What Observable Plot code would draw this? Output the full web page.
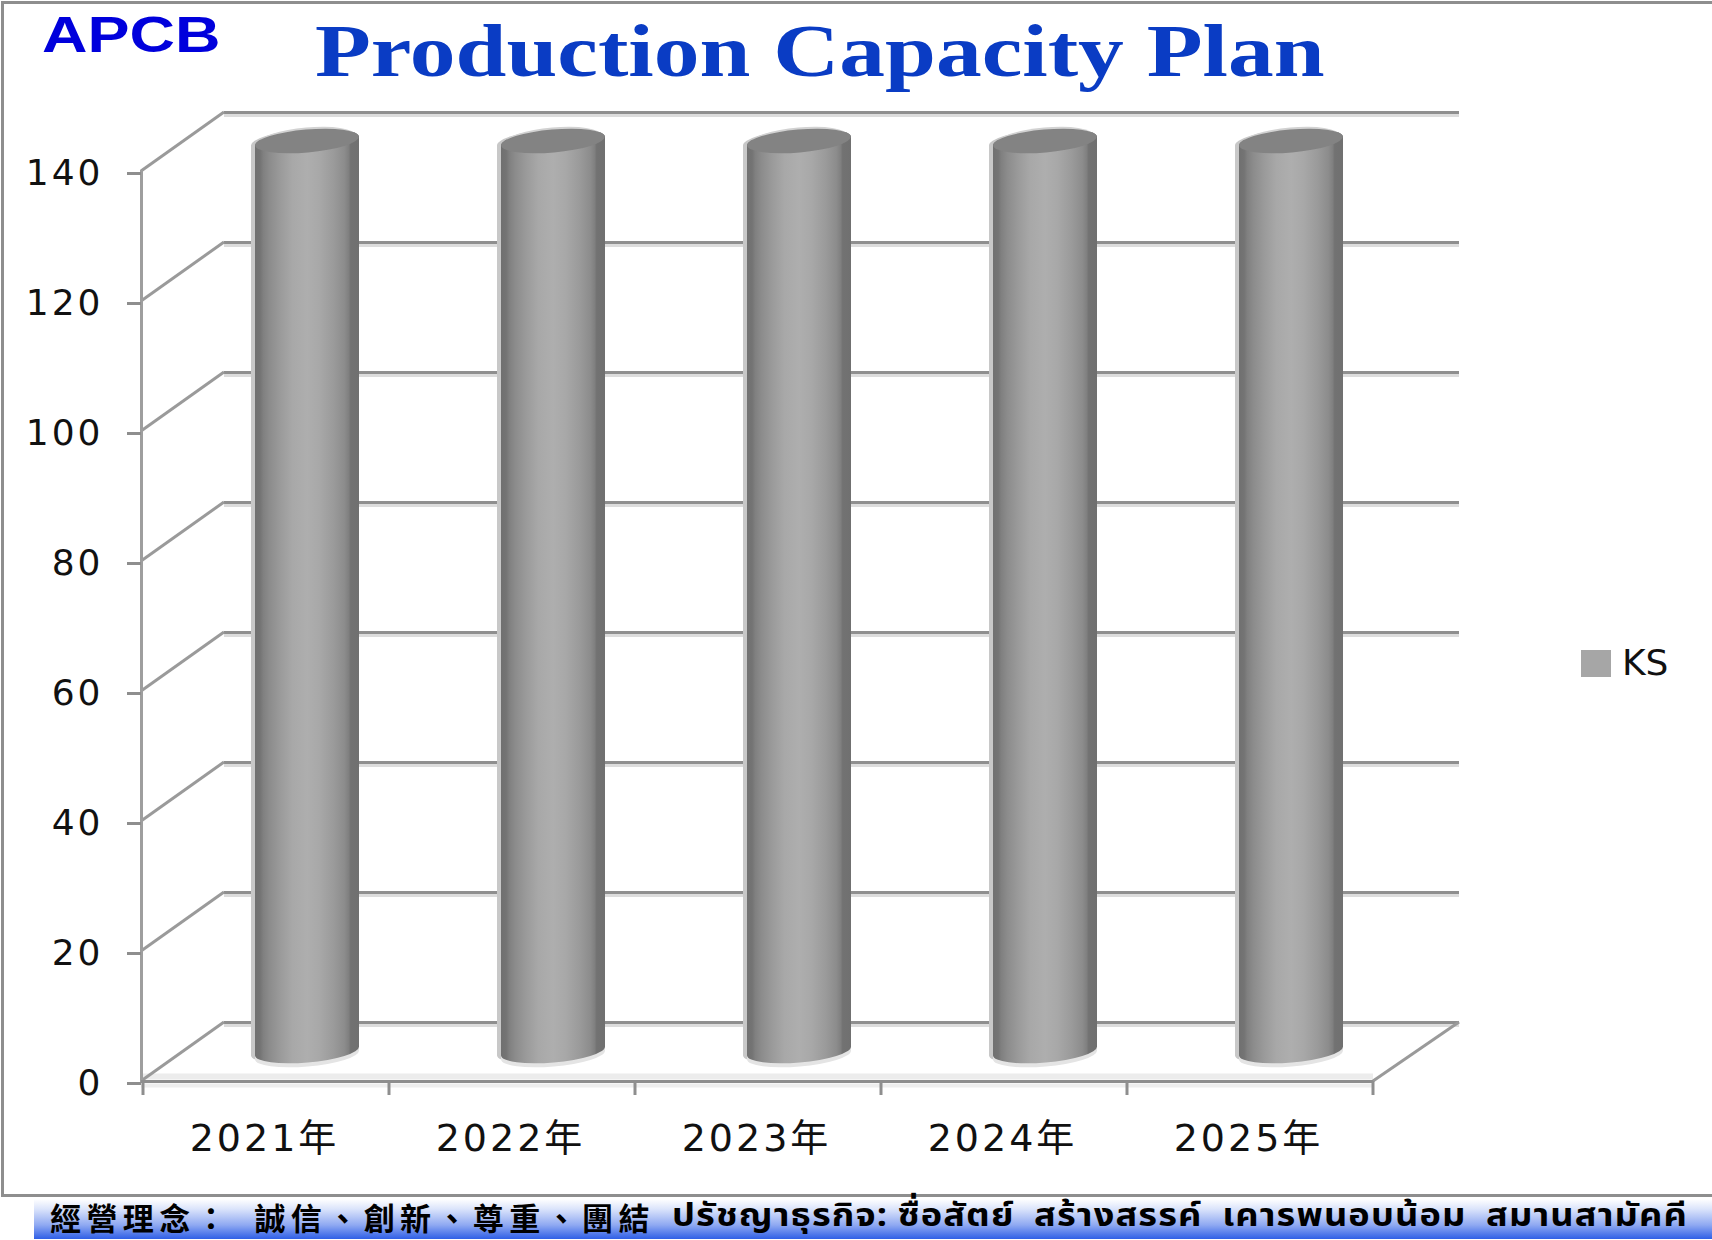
<!DOCTYPE html>
<html><head><meta charset="utf-8">
<script src="https://cdn.jsdelivr.net/npm/d3@7"></script>
<script src="https://cdn.jsdelivr.net/npm/@observablehq/plot@0.6"></script>
<style>
html,body{margin:0;padding:0;background:#fff;}
#page{position:relative;width:1712px;height:1240px;overflow:hidden;}
#frame{position:absolute;left:1px;top:1px;width:1720px;height:1190px;border:3px solid #8e8e8e;pointer-events:none;}
#head{position:relative;height:100px;}
#logo{position:absolute;left:42px;top:7px;font:bold 50px "Liberation Sans",sans-serif;color:#0000dc;transform:scaleX(1.26);transform-origin:0 0;line-height:56px;}
#title{position:absolute;left:315px;top:10px;font:bold 73px "Liberation Serif",serif;color:#0a3cc4;transform:scaleX(1.253);transform-origin:0 0;line-height:84px;white-space:nowrap;}
#legend{position:absolute;left:1581px;top:648px;height:30px;}
#legend i{position:absolute;left:0;top:2px;width:30px;height:27px;background:#a6a6a6;}
#legend span{position:absolute;left:41px;top:-6px;font:36px "DejaVu Sans",sans-serif;color:#111;line-height:42px;}
#foot{position:absolute;left:34px;top:1199px;width:1678px;height:40px;background:linear-gradient(#ffffff 0%,#dbe4fb 25%,#8fa9f2 65%,#2f5fe6 100%);overflow:visible;}
#foot span{position:absolute;top:-4px;line-height:42px;color:#000;font-weight:700;white-space:nowrap;}
#foot .zh{left:16px;top:-3px;font-family:"Noto Sans CJK TC",serif;font-size:31px;letter-spacing:5.4px;word-spacing:10px;}
#foot .th{left:638px;font-family:"Noto Sans Thai","Noto Sans","DejaVu Sans",sans-serif;font-size:32px;letter-spacing:1px;word-spacing:8px;transform:scaleX(1.13);transform-origin:0 0;}
#foot .th b{font-weight:inherit;word-spacing:-1px;}
svg{display:block;overflow:visible;}
</style></head><body>
<div id="page">
  <div id="head"><div id="logo">APCB</div><div id="title">Production Capacity Plan</div></div>
  <div id="chart"></div>
  <div id="frame"></div>
  <div id="legend"><i></i><span>KS</span></div>
  <div id="foot"><span class="zh">經營理念： 誠信、創新、尊重、團結</span><span class="th"><b>ปรัชญาธุรกิจ: </b>ซื่อสัตย์ สร้างสรรค์ เคารพนอบน้อม สมานสามัคคี</span></div>
</div>
<script>
const years = ["2021年","2022年","2023年","2024年","2025年"];
const capacity = [140,140,140,140,140];
const yTicks = [0,20,40,60,80,100,120,140];
const rows = years.map((year,i)=>({year,capacity:capacity[i]}));

const depthX = 83, depthY = -59;   // oblique offset of the back wall
const NS = "http://www.w3.org/2000/svg";
function el(tag, attrs){const e=document.createElementNS(NS,tag);for(const k in attrs)e.setAttribute(k,attrs[k]);return e;}

function cylinderDefs(){
  const defs=el("defs",{});
  const g=el("linearGradient",{id:"cyl",x1:0,x2:1,y1:0,y2:0});
  [[0,"#707070"],[.05,"#747474"],[.08,"#808080"],[.14,"#8c8c8c"],[.24,"#9a9a9a"],[.36,"#a8a8a8"],[.5,"#aeaeae"],[.62,"#a8a8a8"],[.76,"#9a9a9a"],[.86,"#8c8c8c"],[.9,"#808080"],[.92,"#727272"],[1,"#707070"]]
    .forEach(([o,c])=>g.appendChild(el("stop",{offset:o,"stop-color":c})));
  defs.appendChild(g);
  return defs;
}

// oblique side-wall and floor lines, placed from the scales
function walls(index,{x,y},values,{marginLeft,marginRight,width}){
  const g=el("g",{"aria-label":"walls"});
  const line=(x1,y1,x2,y2,s,w)=>g.appendChild(el("line",{x1,y1,x2,y2,stroke:s,"stroke-width":w}));
  for(const t of yTicks) line(marginLeft,y(t),marginLeft+depthX,y(t)+depthY,"#9a9a9a",3);
  const right=width-marginRight;
  line(right,y(0),right+depthX+3,y(0)+depthY,"#9a9a9a",3);
  return g;
}
function xTicks(index,{x,y},values,{marginLeft}){
  const g=el("g",{"aria-label":"x ticks"});
  const step=x(years[1])-x(years[0]);
  const edges=[...years.map(d=>x(d)),x(years[years.length-1])+step];
  for(const e of edges) g.appendChild(el("line",{x1:e+1,x2:e+1,y1:y(0),y2:y(0)+14,stroke:"#8e8e8e","stroke-width":3}));
  return g;
}
function cylinders(index,scales,values,dims,ctx,next){
  const g=next(index,scales,values,dims,ctx);
  const tilt=4.5, ry=11.5;
  g.querySelectorAll("rect").forEach(r=>{
    const X=+r.getAttribute("x"),Y=+r.getAttribute("y"),W=+r.getAttribute("width"),H=+r.getAttribute("height");
    const rx=W/2, xl=X, xr=X+W, yt=Y, yb=Y+H;
    const shape=`M${xl} ${yt+tilt}A${rx} ${ry} -5 0 1 ${xr} ${yt-tilt}L${xr} ${yb-tilt}A${rx} ${ry} -5 0 1 ${xl} ${yb+tilt}Z`;
    const p=r.parentNode;
    p.insertBefore(el("path",{d:shape,fill:"#c8c8c8",transform:"translate(-4,0)"}),r);
    p.insertBefore(el("path",{d:shape,fill:"#e4e4e4",transform:"translate(0,4)"}),r);
    p.insertBefore(el("path",{d:shape,fill:"url(#cyl)"}),r);
    p.insertBefore(el("ellipse",{cx:xl+rx,cy:yt-2,rx:rx-4,ry:ry,fill:"#d2d2d2",transform:`rotate(-5 ${xl+rx} ${yt-2})`}),r);
    p.insertBefore(el("ellipse",{cx:xl+rx,cy:yt,rx:rx,ry:ry,fill:"#838383",transform:`rotate(-5 ${xl+rx} ${yt})`}),r);
    r.remove();
  });
  return g;
}

const chart = Plot.plot({
  width:1712, height:1095,
  marginLeft:141, marginRight:339, marginTop:71, marginBottom:114,
  style:{fontFamily:'"DejaVu Sans","Noto Sans CJK TC",sans-serif',fontSize:"36px",color:"#111",background:"transparent",letterSpacing:"3px"},
  x:{domain:years,padding:0,label:null},
  y:{domain:[0,140],label:null},
  marks:[
    ()=>cylinderDefs(),
    Plot.ruleY(yTicks,{dx:depthX,dy:depthY+3,stroke:"#dcdcdc",strokeWidth:3,insetRight:-3}),
    Plot.ruleY(yTicks,{dx:depthX,dy:depthY,stroke:"#8f8f8f",strokeWidth:3,insetRight:-3}),
    Plot.ruleY([0],{dy:-5,stroke:"#ececec",strokeWidth:6}),
    Plot.ruleY([0],{dy:4,stroke:"#eeeeee",strokeWidth:4}),
    walls,
    Plot.frame({anchor:"left",stroke:"#9e9e9e",strokeWidth:3}),
    Plot.ruleY([0],{stroke:"#8e8e8e",strokeWidth:3}),
    xTicks,
    Plot.barY(rows,{x:"year",y:"capacity",dx:42,dy:-30,insetLeft:71,insetRight:71,fill:"#a6a6a6",render:cylinders}),
    Plot.axisY({ticks:yTicks,tickSize:14,tickPadding:24,stroke:"#8e8e8e",strokeWidth:3,fill:"#111",label:null,dy:2}),
    Plot.axisX({tickSize:0,tickPadding:43,fontSize:38,fill:"#111",label:null,dx:-1})
  ]
});
document.getElementById("chart").appendChild(chart);
</script>
</body></html>
